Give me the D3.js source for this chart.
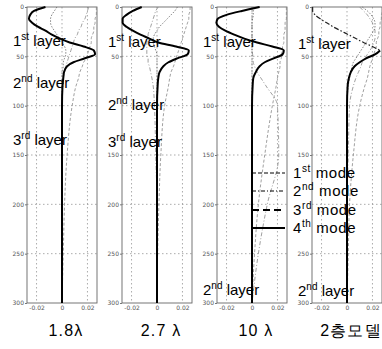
<!DOCTYPE html>
<html><head><meta charset="utf-8">
<script src="https://cdn.jsdelivr.net/npm/d3@7"></script>
<style>body{margin:0;background:#fff}svg{display:block}</style>
</head><body>
<svg id="c" width="382" height="349"></svg>
<script>
const panelNames = ["1.8λ", "2.7 λ", "10 λ", "2층모델"];
const depthTicks = [0, 50, 100, 150, 200, 250, 300];
// tick labels hidden under other texts in the reference
const hiddenDepthTicks = [[], [100], [], [200]];
const ampTicks = [-0.02, 0, 0.02];
const ampTickLabels = ["-0.02", "0", "0.02"];
const depths = [0,4,8,12,16,20,24,28,32,36,40,44,48,52,56,60,66,72,80,100,150,200,250,300];

// mode 4 (thick solid) per panel
const mode4P1 = [-0.013,-0.022,-0.025,-0.026,-0.0235,-0.019,-0.013,-0.008,-0.0015,0.006,0.017,0.025,0.026,0.018,0.009,0.004,0.0016,0.001,0.0004,0,0,0,0,0];
const mode4P2 = [-0.012,-0.019,-0.024,-0.027,-0.027,-0.024,-0.019,-0.013,-0.006,0.001,0.015,0.025,0.024,0.016,0.009,0.005,0.002,0.001,0.0005,0,0,0,0,0];
const mode4P3 = [0.006,-0.008,-0.020,-0.027,-0.028,-0.026,-0.021,-0.014,-0.006,0.004,0.016,0.025,0.024,0.017,0.010,0.006,0.003,0.001,0.0005,0,0,0,0,0];
const mode4P4 = [-0.027,-0.027,-0.025,-0.021,-0.016,-0.011,-0.005,0.001,0.007,0.013,0.020,0.026,0.022,0.015,0.010,0.006,0.003,0.0015,0.0005,0,0,0,0,0];
// mode 1 (dashed)
const mode1P1 = [0.027,0.027,0.027,0.026,0.026,0.025,0.025,0.024,0.023,0.023,0.022,0.021,0.020,0.019,0.017,0.016,0.014,0.013,0.011,0.008,0.004,0.002,0.001,0];
const mode1P2 = [0.026,0.026,0.025,0.025,0.024,0.023,0.022,0.021,0.020,0.019,0.018,0.017,0.016,0.015,0.014,0.013,0.011,0.010,0.009,0.006,0.003,0.0015,0.0005,0];
const mode1P3 = [0.027,0.027,0.027,0.027,0.026,0.026,0.026,0.025,0.025,0.025,0.024,0.024,0.023,0.023,0.022,0.022,0.021,0.020,0.019,0.016,0.010,0.005,0.002,0];
const mode1P4 = [0.028,0.028,0.027,0.027,0.026,0.026,0.025,0.025,0.024,0.023,0.023,0.022,0.021,0.020,0.019,0.018,0.017,0.016,0.014,0.010,0.005,0.002,0.001,0];
// mode 2 (dash-dot)
const mode2P1 = [0.021,0.020,0.019,0.018,0.016,0.015,0.013,0.012,0.010,0.009,0.008,0.007,0.006,0.005,0.004,0.003,0.002,0.001,0.0005,0,0,0,0,0];
const mode2P2 = [0.001,-0.001,-0.002,-0.003,-0.004,-0.005,-0.006,-0.007,-0.007,-0.008,-0.008,-0.008,-0.008,-0.007,-0.007,-0.006,-0.005,-0.004,-0.003,-0.002,-0.001,0,0,0];
const mode2P3 = [0,0,0,0,0,0,0,0,0,0,0,0,0.0005,0.0008,0.001,0.002,0.004,0.007,0.011,0.020,0.021,0.012,0.005,0];
const mode2P4 = [0.010,0.013,0.016,0.018,0.020,0.021,0.022,0.022,0.022,0.021,0.020,0.018,0.016,0.014,0.012,0.011,0.009,0.007,0.005,0.002,0.001,0,0,0];
// mode 3 (dotted)
const mode3P1 = [-0.004,-0.006,-0.008,-0.009,-0.009,-0.008,-0.006,-0.004,-0.002,0,0.002,0.003,0.003,0.002,0.001,0.001,0,0,0,0,0,0,0,0];
const mode3P2 = [0.016,0.014,0.011,0.008,0.005,0.002,0,-0.002,-0.003,-0.003,-0.002,-0.001,0,0,0,0,0,0,0,0,0,0,0,0];
const mode3P3 = [0.001,0.001,0.001,0.0005,0,0,0,0,0,0,0,0,0,0,0,0,0,0,0,0,0,0,0,0];
const mode3P4 = [0.012,0.016,0.019,0.021,0.022,0.022,0.021,0.019,0.017,0.015,0.013,0.011,0.009,0.007,0.005,0.004,0.003,0.002,0.001,0,0,0,0,0];

const panelModes = [
  [mode1P1, mode2P1, mode3P1, mode4P1],
  [mode1P2, mode2P2, mode3P2, mode4P2],
  [mode1P3, mode2P3, mode3P3, mode4P3],
  [mode1P4, mode2P4, mode3P4, mode4P4]
];
const layerLabels = [
  [["1","st",46],["2","nd",88],["3","rd",145]],
  [["1","st",47],["2","nd",110],["3","rd",147]],
  [["1","st",47],["2","nd",295]],
  [["1","st",49],["2","nd",296]]
];
const legendNames = [["1","st"],["2","nd"],["3","rd"],["4","th"]];

const svg = d3.select("#c");
const panelW = 70;
const band = d3.scaleBand().domain(panelNames).range([27, 27 + 4 * 95]).paddingInner(0).paddingOuter(0);
const x = d3.scaleLinear().domain([-0.0275, 0.0275]).range([0, panelW]);
const y = d3.scaleLinear().domain([0, 300]).range([7, 303]);

const styles = [
  {stroke:"#888", width:0.8, dash:"3,2"},
  {stroke:"#888", width:0.8, dash:"4,2,1,2"},
  {stroke:"#666", width:0.8, dash:"1.5,1.5"},
  {stroke:"#000", width:2, dash:null}
];
const FONT = "Liberation Sans, Arial, sans-serif";

panelNames.forEach((name, i) => {
  const g = svg.append("g").attr("transform", `translate(${band(name)},0)`);
  // grid
  g.selectAll(".hg").data(depthTicks.slice(1, -1)).enter().append("line")
    .attr("x1", 0).attr("x2", panelW).attr("y1", d => y(d)).attr("y2", d => y(d))
    .attr("stroke", "#888").attr("stroke-width", 0.7).attr("stroke-dasharray", "1.5,2.5");
  g.selectAll(".vg").data(ampTicks).enter().append("line")
    .attr("x1", d => x(d)).attr("x2", d => x(d)).attr("y1", y(0)).attr("y2", y(300))
    .attr("stroke", "#888").attr("stroke-width", 0.7).attr("stroke-dasharray", "1.5,2.5");
  // frame
  g.append("rect").attr("x", 0).attr("y", y(0)).attr("width", panelW).attr("height", y(300) - y(0))
    .attr("fill", "none").attr("stroke", "#666").attr("stroke-width", 0.9);
  // axes
  const shown = depthTicks.filter(t => !hiddenDepthTicks[i].includes(t));
  const ya = d3.axisLeft(y).tickValues(shown).tickSize(2).tickPadding(1);
  g.append("g").call(ya).call(a => {
    a.select(".domain").remove();
    a.selectAll("line").attr("stroke", "#777");
    a.selectAll("text").attr("font-size", 6).attr("fill", "#555").attr("font-family", "DejaVu Sans");
  });
  const xa = d3.axisBottom(x).tickValues(ampTicks).tickFormat((d, k) => ampTickLabels[k]).tickSize(0).tickPadding(3);
  g.append("g").attr("transform", `translate(0,${y(300)})`).call(xa).call(a => {
    a.select(".domain").remove();
    a.selectAll("text").attr("font-size", 6).attr("fill", "#555").attr("font-family", "DejaVu Sans");
  });
  // curves
  const line = d3.line().x(d => x(d[1])).y(d => y(d[0])).curve(d3.curveMonotoneY);
  panelModes[i].forEach((vals, m) => {
    const pts = depths.map((d, k) => [d, vals[k]]);
    const st = styles[m];
    if (i === 3 && m === 3) {
      g.append("path").attr("d", line(pts.filter(p => p[0] <= 44))).attr("fill", "none")
        .attr("stroke", "#222").attr("stroke-width", 1.2).attr("stroke-dasharray", "5,2,1.5,2");
      g.append("path").attr("d", line(pts.filter(p => p[0] >= 44))).attr("fill", "none")
        .attr("stroke", "#000").attr("stroke-width", 2);
    } else {
      g.append("path").attr("d", line(pts)).attr("fill", "none")
        .attr("stroke", st.stroke).attr("stroke-width", st.width)
        .attr("stroke-dasharray", st.dash);
    }
  });
  // layer labels
  layerLabels[i].forEach(l => {
    const t = svg.append("text").attr("x", band(name) - 14).attr("y", l[2])
      .attr("font-family", FONT).attr("font-size", 15).attr("fill", "#000");
    t.append("tspan").text(l[0]);
    t.append("tspan").attr("dy", -6).attr("font-size", 10).text(l[1]);
    t.append("tspan").attr("dy", 6).text(" layer");
  });
  // bottom label
  svg.append("text").attr("x", band(name) + x(0) + 4).attr("y", 336).attr("text-anchor", "middle")
    .attr("font-family", FONT).attr("font-size", 16)
    .attr("letter-spacing", 1.2).attr("fill", "#000").text(name);
});

// legend in panel 3
const lx = band(panelNames[2]) + x(0);
const legY = [173, 191, 210, 228];
legendNames.forEach((n, m) => {
  svg.append("line").attr("x1", lx).attr("x2", lx + 33).attr("y1", legY[m]).attr("y2", legY[m])
    .attr("stroke", "#000").attr("stroke-width", m >= 2 ? 2 : 1)
    .attr("stroke-dasharray", m === 0 ? "4,2" : m === 1 ? "4,2,1,2" : m === 2 ? "7,4" : null);
  const t = svg.append("text").attr("x", lx + 41).attr("y", legY[m] + 5)
    .attr("font-family", FONT).attr("font-size", 15).attr("letter-spacing", 0.6).attr("fill", "#000");
  t.append("tspan").text(n[0]);
  t.append("tspan").attr("dy", -6).attr("font-size", 10).text(n[1]);
  t.append("tspan").attr("dy", 6).text(" mode");
});
</script>
</body></html>
